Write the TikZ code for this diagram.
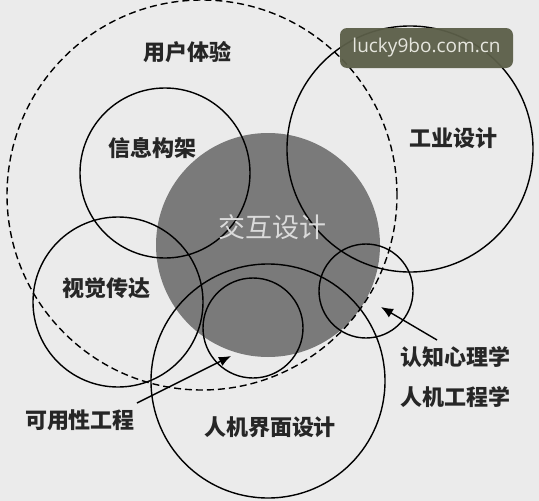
\documentclass[tikz,border=0pt]{standalone}
\usepackage{fontspec}
\newfontfamily\cjk{Noto Sans CJK SC}
\newfontfamily\wmfont{Open Sans}
\usetikzlibrary{arrows.meta}
\definecolor{bg}{HTML}{EBEBEB}
\definecolor{disc}{HTML}{7A7A7A}
\definecolor{wm}{HTML}{5B5E48}
\definecolor{wmtext}{HTML}{E6E6DE}
\definecolor{disctext}{HTML}{DADADA}
\begin{document}
\begin{tikzpicture}[x=1pt,y=-1pt,
  ring/.style={circle,draw=black,line width=1.4pt,inner sep=0pt,outer sep=0pt},
  lbl/.style={font=\cjk\bfseries\fontsize{22}{22}\selectfont,text=black!85,inner sep=0pt},
  arr/.style={-{Latex[length=12pt,width=10pt]},line width=1.4pt}]
\fill[bg] (0,0) rectangle (539,501);
\useasboundingbox (0,0) rectangle (539,501);
% grey disc
\node[circle,fill=disc,minimum size=224pt,inner sep=0pt] (ixd) at (268,245) {};
% circles
\node[ring,dash pattern=on 7pt off 4pt,minimum size=390pt] (ux) at (202,195) {};
\node[ring,minimum size=170pt] (ia) at (165,173) {};
\node[ring,minimum size=246pt] (id) at (410,149) {};
\node[ring,minimum size=170pt] (vc) at (118,302) {};
\node[ring,minimum size=234pt] (hci) at (268,381) {};
\node[ring,minimum size=100pt] (ue) at (253,328) {};
\node[ring,minimum size=94pt] (cp) at (366,291) {};
% labels
\node[lbl] (tux) at (187,52) {用户体验};
\node[lbl] (tia) at (152,148) {信息构架};
\node[font=\cjk\fontsize{27}{27}\selectfont,text=disctext,inner sep=0pt] (tixd) at (272,227) {交互设计};
\node[lbl] (tid) at (453,138) {工业设计};
\node[lbl] (tvc) at (107,288) {视觉传达};
\node[lbl] (tue) at (80,420) {可用性工程};
\node[lbl] (thci) at (270,427) {人机界面设计};
\node[lbl] (tcp) at (455,357) {认知心理学};
\node[lbl] (ter) at (455,397) {人机工程学};
% arrows
\coordinate (uetail) at (137,403);
\coordinate (uetip) at (231,356);
\coordinate (cptail) at (437,340);
\coordinate (cptip) at (381,307);
\draw[arr] (uetail) -- (uetip);
\draw[arr] (cptail) -- (cptip);
% watermark
\node[fill=wm,fill opacity=0.95,text opacity=1,rounded corners=7pt,minimum width=173pt,minimum height=40pt,inner sep=0pt,text=wmtext,font=\wmfont\fontsize{19}{19}\selectfont] (wmk) at (426.5,48) {lucky9bo.com.cn};
\end{tikzpicture}
\end{document}
